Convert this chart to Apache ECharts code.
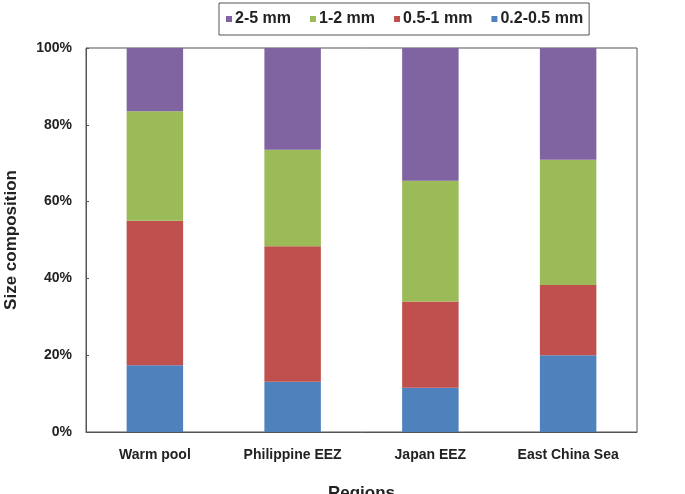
<!DOCTYPE html>
<html>
<head>
<meta charset="utf-8">
<title>Size composition</title>
<script src="https://cdn.jsdelivr.net/npm/echarts@6/dist/echarts.min.js"></script>
<style>
  html, body { margin: 0; padding: 0; background: #fff; }
  #chart { width: 685px; height: 494px; }
</style>
</head>
<body>
<div id="chart"></div>
<script>
// regions
var regions = ['Warm pool', 'Philippine EEZ', 'Japan EEZ', 'East China Sea'];
// size classes (percent of total), bottom to top
var size02_05 = [17.4, 13.1, 11.5, 20.0];
var size05_1 = [37.6, 35.3, 22.5, 18.3];
var size1_2 = [28.5, 25.1, 31.4, 32.6];
var size2_5 = [16.5, 26.5, 34.6, 29.1];
var yTicks = [0, 20, 40, 60, 80, 100];

var font = 'Liberation Sans, Arial, sans-serif';
var chart = echarts.init(document.getElementById('chart'));

function bar(name, data, color) {
  return {
    name: name,
    type: 'bar',
    stack: 'all',
    barWidth: '41%',
    data: data,
    itemStyle: { color: color },
    emphasis: { disabled: true }
  };
}

chart.setOption({
  animation: false,
  textStyle: { fontFamily: font },
  legend: {
    left: 219,
    top: 3,
    padding: [8, 6, 8, 7],
    borderColor: '#555',
    borderWidth: 1,
    itemWidth: 6,
    itemHeight: 6,
    itemGap: 19,
    icon: 'rect',
    data: ['2-5 mm', '1-2 mm', '0.5-1 mm', '0.2-0.5 mm'],
    textStyle: { fontSize: 16, fontWeight: 'bold', color: '#222', padding: [0, 0, 0, -2] }
  },
  grid: {
    left: 86, right: 48, top: 48, bottom: 62,
    outerBoundsMode: 'none',
    containLabel: false,
    show: true, borderColor: '#555', borderWidth: 1
  },
  xAxis: {
    type: 'category',
    data: regions,
    name: 'Regions',
    nameLocation: 'middle',
    nameGap: 53,
    nameTextStyle: { fontSize: 17, fontWeight: 'bold', color: '#222' },
    axisLine: { lineStyle: { color: '#555' } },
    axisTick: { inside: true, length: 3, lineStyle: { color: '#555' } },
    axisLabel: { fontSize: 14, fontWeight: 'bold', color: '#222', margin: 16 }
  },
  yAxis: {
    type: 'value',
    min: yTicks[0],
    max: yTicks[yTicks.length - 1],
    interval: 20,
    name: 'Size composition',
    nameLocation: 'middle',
    nameRotate: 90,
    nameGap: 66,
    nameTextStyle: { fontSize: 17, fontWeight: 'bold', color: '#222' },
    axisLine: { show: true, lineStyle: { color: '#555' } },
    axisTick: { show: true, inside: true, length: 3, lineStyle: { color: '#555' } },
    splitLine: { show: false },
    axisLabel: { fontSize: 14, fontWeight: 'bold', color: '#222', margin: 14, formatter: '{value}%' }
  },
  series: [
    bar('0.2-0.5 mm', size02_05, '#4F81BD'),
    bar('0.5-1 mm', size05_1, '#C0504D'),
    bar('1-2 mm', size1_2, '#9BBB59'),
    bar('2-5 mm', size2_5, '#8064A2')
  ]
});
</script>
</body>
</html>
